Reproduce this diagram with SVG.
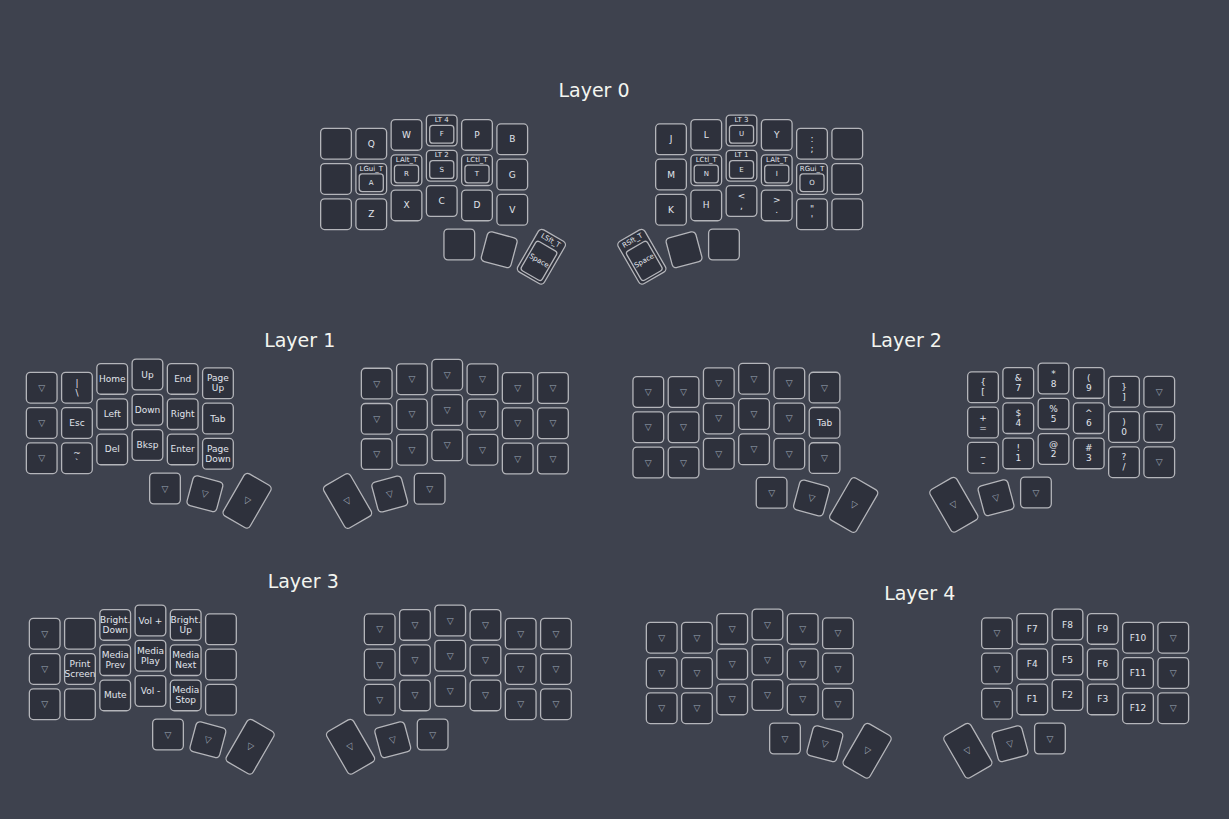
<svg xmlns="http://www.w3.org/2000/svg" xmlns:xlink="http://www.w3.org/1999/xlink" width="1229" height="819" viewBox="0 0 1229 819">
<style>
.kb{fill:#2e313c;stroke:#b4b5ba;stroke-width:1.3}
text{font-family:"DejaVu Sans","Liberation Sans",sans-serif;font-size:9px;fill:#e1e5ec;text-anchor:middle;dominant-baseline:central}
text.t{fill:#9ea7b6}
text.s{font-size:7px}
text.title{font-size:19px;fill:#f3f5f0;dominant-baseline:alphabetic}
</style>
<defs>
<rect id="k" class="kb" x="-15.35" y="-15.35" width="30.7" height="30.7" rx="4"/>
<rect id="hi" class="kb" x="-12.05" y="-5.05" width="24.1" height="17.7" rx="3"/>
<rect id="kt" class="kb" x="-15.35" y="-24.35" width="30.7" height="48.7" rx="4"/>
<rect id="hti" class="kb" x="-12.05" y="-12" width="24.1" height="33.7" rx="3"/>
</defs>
<rect width="1229" height="819" fill="#3e424e"/>
<g id="connectors"/>

<!-- Layer 0 -->
<g id="layer0">
<text class="title" x="594" y="97">Layer 0</text>
<g id="L0-left" transform="translate(320,127.7)">
<g id="L0l-r0c0" transform="translate(16,16)"><use href="#k"/></g>
<g id="L0l-r0c1" transform="translate(51.25,16)"><use href="#k"/><text>Q</text></g>
<g id="L0l-r0c2" transform="translate(86.5,7.2)"><use href="#k"/><text>W</text></g>
<g id="L0l-r0c3" transform="translate(121.75,2.8)"><use href="#k"/><text class="s" y="-10.4">LT 4</text><use href="#hi"/><text class="s" y="3.8">F</text></g>
<g id="L0l-r0c4" transform="translate(157,7.2)"><use href="#k"/><text>P</text></g>
<g id="L0l-r0c5" transform="translate(192.25,11.6)"><use href="#k"/><text>B</text></g>
<g id="L0l-r1c0" transform="translate(16,51.25)"><use href="#k"/></g>
<g id="L0l-r1c1" transform="translate(51.25,51.25)"><use href="#k"/><text class="s" y="-10.4">LGui_T</text><use href="#hi"/><text class="s" y="3.8">A</text></g>
<g id="L0l-r1c2" transform="translate(86.5,42.45)"><use href="#k"/><text class="s" y="-10.4">LAlt_T</text><use href="#hi"/><text class="s" y="3.8">R</text></g>
<g id="L0l-r1c3" transform="translate(121.75,38.05)"><use href="#k"/><text class="s" y="-10.4">LT 2</text><use href="#hi"/><text class="s" y="3.8">S</text></g>
<g id="L0l-r1c4" transform="translate(157,42.45)"><use href="#k"/><text class="s" y="-10.4">LCtl_T</text><use href="#hi"/><text class="s" y="3.8">T</text></g>
<g id="L0l-r1c5" transform="translate(192.25,46.85)"><use href="#k"/><text>G</text></g>
<g id="L0l-r2c0" transform="translate(16,86.5)"><use href="#k"/></g>
<g id="L0l-r2c1" transform="translate(51.25,86.5)"><use href="#k"/><text>Z</text></g>
<g id="L0l-r2c2" transform="translate(86.5,77.7)"><use href="#k"/><text>X</text></g>
<g id="L0l-r2c3" transform="translate(121.75,73.3)"><use href="#k"/><text>C</text></g>
<g id="L0l-r2c4" transform="translate(157,77.7)"><use href="#k"/><text>D</text></g>
<g id="L0l-r2c5" transform="translate(192.25,82.1)"><use href="#k"/><text>V</text></g>
<g id="L0l-t0" transform="translate(139.3,116.8)"><use href="#k"/></g>
<g id="L0l-t1" transform="translate(179.2,122) rotate(15)"><use href="#k"/></g>
<g id="L0l-t2" transform="translate(221.4,129) rotate(30)"><use href="#kt"/><text class="s" y="-18.5">LSft_T</text><use href="#hti"/><text class="s" y="4.8">Space</text></g>
</g>
<g id="L0-right" transform="translate(655,127.7)">
<g id="L0r-r0c0" transform="translate(16,11.6)"><use href="#k"/><text>J</text></g>
<g id="L0r-r0c1" transform="translate(51.25,7.2)"><use href="#k"/><text>L</text></g>
<g id="L0r-r0c2" transform="translate(86.5,2.8)"><use href="#k"/><text class="s" y="-10.4">LT 3</text><use href="#hi"/><text class="s" y="3.8">U</text></g>
<g id="L0r-r0c3" transform="translate(121.75,7.2)"><use href="#k"/><text>Y</text></g>
<g id="L0r-r0c4" transform="translate(157,16)"><use href="#k"/><text y="-5">:</text><text y="5">;</text></g>
<g id="L0r-r0c5" transform="translate(192.25,16)"><use href="#k"/></g>
<g id="L0r-r1c0" transform="translate(16,46.85)"><use href="#k"/><text>M</text></g>
<g id="L0r-r1c1" transform="translate(51.25,42.45)"><use href="#k"/><text class="s" y="-10.4">LCtl_T</text><use href="#hi"/><text class="s" y="3.8">N</text></g>
<g id="L0r-r1c2" transform="translate(86.5,38.05)"><use href="#k"/><text class="s" y="-10.4">LT 1</text><use href="#hi"/><text class="s" y="3.8">E</text></g>
<g id="L0r-r1c3" transform="translate(121.75,42.45)"><use href="#k"/><text class="s" y="-10.4">LAlt_T</text><use href="#hi"/><text class="s" y="3.8">I</text></g>
<g id="L0r-r1c4" transform="translate(157,51.25)"><use href="#k"/><text class="s" y="-10.4">RGui_T</text><use href="#hi"/><text class="s" y="3.8">O</text></g>
<g id="L0r-r1c5" transform="translate(192.25,51.25)"><use href="#k"/></g>
<g id="L0r-r2c0" transform="translate(16,82.1)"><use href="#k"/><text>K</text></g>
<g id="L0r-r2c1" transform="translate(51.25,77.7)"><use href="#k"/><text>H</text></g>
<g id="L0r-r2c2" transform="translate(86.5,73.3)"><use href="#k"/><text y="-5">&lt;</text><text y="5">,</text></g>
<g id="L0r-r2c3" transform="translate(121.75,77.7)"><use href="#k"/><text y="-5">&gt;</text><text y="5">.</text></g>
<g id="L0r-r2c4" transform="translate(157,86.5)"><use href="#k"/><text y="-5">"</text><text y="5">'</text></g>
<g id="L0r-r2c5" transform="translate(192.25,86.5)"><use href="#k"/></g>
<g id="L0r-t0" transform="translate(-13.15,129) rotate(-30)"><use href="#kt"/><text class="s" y="-18.5">RSft_T</text><use href="#hti"/><text class="s" y="4.8">Space</text></g>
<g id="L0r-t1" transform="translate(29.05,122) rotate(-15)"><use href="#k"/></g>
<g id="L0r-t2" transform="translate(68.95,116.8)"><use href="#k"/></g>
</g>
</g>

<!-- Layer 1 -->
<g id="layer1">
<text class="title" x="299.7" y="347">Layer 1</text>
<g id="L1-left" transform="translate(25.7,371.7)">
<g id="L1l-r0c0" transform="translate(16,16)"><use href="#k"/><text class="t">▽</text></g>
<g id="L1l-r0c1" transform="translate(51.25,16)"><use href="#k"/><text y="-5">|</text><text y="5">\</text></g>
<g id="L1l-r0c2" transform="translate(86.5,7.2)"><use href="#k"/><text>Home</text></g>
<g id="L1l-r0c3" transform="translate(121.75,2.8)"><use href="#k"/><text>Up</text></g>
<g id="L1l-r0c4" transform="translate(157,7.2)"><use href="#k"/><text>End</text></g>
<g id="L1l-r0c5" transform="translate(192.25,11.6)"><use href="#k"/><text y="-5">Page</text><text y="5">Up</text></g>
<g id="L1l-r1c0" transform="translate(16,51.25)"><use href="#k"/><text class="t">▽</text></g>
<g id="L1l-r1c1" transform="translate(51.25,51.25)"><use href="#k"/><text>Esc</text></g>
<g id="L1l-r1c2" transform="translate(86.5,42.45)"><use href="#k"/><text>Left</text></g>
<g id="L1l-r1c3" transform="translate(121.75,38.05)"><use href="#k"/><text>Down</text></g>
<g id="L1l-r1c4" transform="translate(157,42.45)"><use href="#k"/><text>Right</text></g>
<g id="L1l-r1c5" transform="translate(192.25,46.85)"><use href="#k"/><text>Tab</text></g>
<g id="L1l-r2c0" transform="translate(16,86.5)"><use href="#k"/><text class="t">▽</text></g>
<g id="L1l-r2c1" transform="translate(51.25,86.5)"><use href="#k"/><text y="-5">~</text><text y="5">`</text></g>
<g id="L1l-r2c2" transform="translate(86.5,77.7)"><use href="#k"/><text>Del</text></g>
<g id="L1l-r2c3" transform="translate(121.75,73.3)"><use href="#k"/><text>Bksp</text></g>
<g id="L1l-r2c4" transform="translate(157,77.7)"><use href="#k"/><text>Enter</text></g>
<g id="L1l-r2c5" transform="translate(192.25,82.1)"><use href="#k"/><text y="-5">Page</text><text y="5">Down</text></g>
<g id="L1l-t0" transform="translate(139.3,116.8)"><use href="#k"/><text class="t">▽</text></g>
<g id="L1l-t1" transform="translate(179.2,122) rotate(15)"><use href="#k"/><text class="t">▽</text></g>
<g id="L1l-t2" transform="translate(221.4,129) rotate(30)"><use href="#kt"/><text class="t">▽</text></g>
</g>
<g id="L1-right" transform="translate(360.7,372)">
<g id="L1r-r0c0" transform="translate(16,11.6)"><use href="#k"/><text class="t">▽</text></g>
<g id="L1r-r0c1" transform="translate(51.25,7.2)"><use href="#k"/><text class="t">▽</text></g>
<g id="L1r-r0c2" transform="translate(86.5,2.8)"><use href="#k"/><text class="t">▽</text></g>
<g id="L1r-r0c3" transform="translate(121.75,7.2)"><use href="#k"/><text class="t">▽</text></g>
<g id="L1r-r0c4" transform="translate(157,16)"><use href="#k"/><text class="t">▽</text></g>
<g id="L1r-r0c5" transform="translate(192.25,16)"><use href="#k"/><text class="t">▽</text></g>
<g id="L1r-r1c0" transform="translate(16,46.85)"><use href="#k"/><text class="t">▽</text></g>
<g id="L1r-r1c1" transform="translate(51.25,42.45)"><use href="#k"/><text class="t">▽</text></g>
<g id="L1r-r1c2" transform="translate(86.5,38.05)"><use href="#k"/><text class="t">▽</text></g>
<g id="L1r-r1c3" transform="translate(121.75,42.45)"><use href="#k"/><text class="t">▽</text></g>
<g id="L1r-r1c4" transform="translate(157,51.25)"><use href="#k"/><text class="t">▽</text></g>
<g id="L1r-r1c5" transform="translate(192.25,51.25)"><use href="#k"/><text class="t">▽</text></g>
<g id="L1r-r2c0" transform="translate(16,82.1)"><use href="#k"/><text class="t">▽</text></g>
<g id="L1r-r2c1" transform="translate(51.25,77.7)"><use href="#k"/><text class="t">▽</text></g>
<g id="L1r-r2c2" transform="translate(86.5,73.3)"><use href="#k"/><text class="t">▽</text></g>
<g id="L1r-r2c3" transform="translate(121.75,77.7)"><use href="#k"/><text class="t">▽</text></g>
<g id="L1r-r2c4" transform="translate(157,86.5)"><use href="#k"/><text class="t">▽</text></g>
<g id="L1r-r2c5" transform="translate(192.25,86.5)"><use href="#k"/><text class="t">▽</text></g>
<g id="L1r-t0" transform="translate(-13.15,129) rotate(-30)"><use href="#kt"/><text class="t">▽</text></g>
<g id="L1r-t1" transform="translate(29.05,122) rotate(-15)"><use href="#k"/><text class="t">▽</text></g>
<g id="L1r-t2" transform="translate(68.95,116.8)"><use href="#k"/><text class="t">▽</text></g>
</g>
</g>

<!-- Layer 2 -->
<g id="layer2">
<text class="title" x="906.3" y="347">Layer 2</text>
<g id="L2-left" transform="translate(632.3,376)">
<g id="L2l-r0c0" transform="translate(16,16)"><use href="#k"/><text class="t">▽</text></g>
<g id="L2l-r0c1" transform="translate(51.25,16)"><use href="#k"/><text class="t">▽</text></g>
<g id="L2l-r0c2" transform="translate(86.5,7.2)"><use href="#k"/><text class="t">▽</text></g>
<g id="L2l-r0c3" transform="translate(121.75,2.8)"><use href="#k"/><text class="t">▽</text></g>
<g id="L2l-r0c4" transform="translate(157,7.2)"><use href="#k"/><text class="t">▽</text></g>
<g id="L2l-r0c5" transform="translate(192.25,11.6)"><use href="#k"/><text class="t">▽</text></g>
<g id="L2l-r1c0" transform="translate(16,51.25)"><use href="#k"/><text class="t">▽</text></g>
<g id="L2l-r1c1" transform="translate(51.25,51.25)"><use href="#k"/><text class="t">▽</text></g>
<g id="L2l-r1c2" transform="translate(86.5,42.45)"><use href="#k"/><text class="t">▽</text></g>
<g id="L2l-r1c3" transform="translate(121.75,38.05)"><use href="#k"/><text class="t">▽</text></g>
<g id="L2l-r1c4" transform="translate(157,42.45)"><use href="#k"/><text class="t">▽</text></g>
<g id="L2l-r1c5" transform="translate(192.25,46.85)"><use href="#k"/><text>Tab</text></g>
<g id="L2l-r2c0" transform="translate(16,86.5)"><use href="#k"/><text class="t">▽</text></g>
<g id="L2l-r2c1" transform="translate(51.25,86.5)"><use href="#k"/><text class="t">▽</text></g>
<g id="L2l-r2c2" transform="translate(86.5,77.7)"><use href="#k"/><text class="t">▽</text></g>
<g id="L2l-r2c3" transform="translate(121.75,73.3)"><use href="#k"/><text class="t">▽</text></g>
<g id="L2l-r2c4" transform="translate(157,77.7)"><use href="#k"/><text class="t">▽</text></g>
<g id="L2l-r2c5" transform="translate(192.25,82.1)"><use href="#k"/><text class="t">▽</text></g>
<g id="L2l-t0" transform="translate(139.3,116.8)"><use href="#k"/><text class="t">▽</text></g>
<g id="L2l-t1" transform="translate(179.2,122) rotate(15)"><use href="#k"/><text class="t">▽</text></g>
<g id="L2l-t2" transform="translate(221.4,129) rotate(30)"><use href="#kt"/><text class="t">▽</text></g>
</g>
<g id="L2-right" transform="translate(967,375.7)">
<g id="L2r-r0c0" transform="translate(16,11.6)"><use href="#k"/><text y="-5">{</text><text y="5">[</text></g>
<g id="L2r-r0c1" transform="translate(51.25,7.2)"><use href="#k"/><text y="-5">&amp;</text><text y="5">7</text></g>
<g id="L2r-r0c2" transform="translate(86.5,2.8)"><use href="#k"/><text y="-5">*</text><text y="5">8</text></g>
<g id="L2r-r0c3" transform="translate(121.75,7.2)"><use href="#k"/><text y="-5">(</text><text y="5">9</text></g>
<g id="L2r-r0c4" transform="translate(157,16)"><use href="#k"/><text y="-5">}</text><text y="5">]</text></g>
<g id="L2r-r0c5" transform="translate(192.25,16)"><use href="#k"/><text class="t">▽</text></g>
<g id="L2r-r1c0" transform="translate(16,46.85)"><use href="#k"/><text y="-5">+</text><text y="5">=</text></g>
<g id="L2r-r1c1" transform="translate(51.25,42.45)"><use href="#k"/><text y="-5">$</text><text y="5">4</text></g>
<g id="L2r-r1c2" transform="translate(86.5,38.05)"><use href="#k"/><text y="-5">%</text><text y="5">5</text></g>
<g id="L2r-r1c3" transform="translate(121.75,42.45)"><use href="#k"/><text y="-5">^</text><text y="5">6</text></g>
<g id="L2r-r1c4" transform="translate(157,51.25)"><use href="#k"/><text y="-5">)</text><text y="5">0</text></g>
<g id="L2r-r1c5" transform="translate(192.25,51.25)"><use href="#k"/><text class="t">▽</text></g>
<g id="L2r-r2c0" transform="translate(16,82.1)"><use href="#k"/><text y="-5">_</text><text y="5">-</text></g>
<g id="L2r-r2c1" transform="translate(51.25,77.7)"><use href="#k"/><text y="-5">!</text><text y="5">1</text></g>
<g id="L2r-r2c2" transform="translate(86.5,73.3)"><use href="#k"/><text y="-5">@</text><text y="5">2</text></g>
<g id="L2r-r2c3" transform="translate(121.75,77.7)"><use href="#k"/><text y="-5">#</text><text y="5">3</text></g>
<g id="L2r-r2c4" transform="translate(157,86.5)"><use href="#k"/><text y="-5">?</text><text y="5">/</text></g>
<g id="L2r-r2c5" transform="translate(192.25,86.5)"><use href="#k"/><text class="t">▽</text></g>
<g id="L2r-t0" transform="translate(-13.15,129) rotate(-30)"><use href="#kt"/><text class="t">▽</text></g>
<g id="L2r-t1" transform="translate(29.05,122) rotate(-15)"><use href="#k"/><text class="t">▽</text></g>
<g id="L2r-t2" transform="translate(68.95,116.8)"><use href="#k"/><text class="t">▽</text></g>
</g>
</g>

<!-- Layer 3 -->
<g id="layer3">
<text class="title" x="303.2" y="587.7">Layer 3</text>
<g id="L3-left" transform="translate(28.7,617.7)">
<g id="L3l-r0c0" transform="translate(16,16)"><use href="#k"/><text class="t">▽</text></g>
<g id="L3l-r0c1" transform="translate(51.25,16)"><use href="#k"/></g>
<g id="L3l-r0c2" transform="translate(86.5,7.2)"><use href="#k"/><text y="-5">Bright.</text><text y="5">Down</text></g>
<g id="L3l-r0c3" transform="translate(121.75,2.8)"><use href="#k"/><text>Vol +</text></g>
<g id="L3l-r0c4" transform="translate(157,7.2)"><use href="#k"/><text y="-5">Bright.</text><text y="5">Up</text></g>
<g id="L3l-r0c5" transform="translate(192.25,11.6)"><use href="#k"/></g>
<g id="L3l-r1c0" transform="translate(16,51.25)"><use href="#k"/><text class="t">▽</text></g>
<g id="L3l-r1c1" transform="translate(51.25,51.25)"><use href="#k"/><text y="-5">Print</text><text y="5">Screen</text></g>
<g id="L3l-r1c2" transform="translate(86.5,42.45)"><use href="#k"/><text y="-5">Media</text><text y="5">Prev</text></g>
<g id="L3l-r1c3" transform="translate(121.75,38.05)"><use href="#k"/><text y="-5">Media</text><text y="5">Play</text></g>
<g id="L3l-r1c4" transform="translate(157,42.45)"><use href="#k"/><text y="-5">Media</text><text y="5">Next</text></g>
<g id="L3l-r1c5" transform="translate(192.25,46.85)"><use href="#k"/></g>
<g id="L3l-r2c0" transform="translate(16,86.5)"><use href="#k"/><text class="t">▽</text></g>
<g id="L3l-r2c1" transform="translate(51.25,86.5)"><use href="#k"/></g>
<g id="L3l-r2c2" transform="translate(86.5,77.7)"><use href="#k"/><text>Mute</text></g>
<g id="L3l-r2c3" transform="translate(121.75,73.3)"><use href="#k"/><text>Vol -</text></g>
<g id="L3l-r2c4" transform="translate(157,77.7)"><use href="#k"/><text y="-5">Media</text><text y="5">Stop</text></g>
<g id="L3l-r2c5" transform="translate(192.25,82.1)"><use href="#k"/></g>
<g id="L3l-t0" transform="translate(139.3,116.8)"><use href="#k"/><text class="t">▽</text></g>
<g id="L3l-t1" transform="translate(179.2,122) rotate(15)"><use href="#k"/><text class="t">▽</text></g>
<g id="L3l-t2" transform="translate(221.4,129) rotate(30)"><use href="#kt"/><text class="t">▽</text></g>
</g>
<g id="L3-right" transform="translate(363.7,617.7)">
<g id="L3r-r0c0" transform="translate(16,11.6)"><use href="#k"/><text class="t">▽</text></g>
<g id="L3r-r0c1" transform="translate(51.25,7.2)"><use href="#k"/><text class="t">▽</text></g>
<g id="L3r-r0c2" transform="translate(86.5,2.8)"><use href="#k"/><text class="t">▽</text></g>
<g id="L3r-r0c3" transform="translate(121.75,7.2)"><use href="#k"/><text class="t">▽</text></g>
<g id="L3r-r0c4" transform="translate(157,16)"><use href="#k"/><text class="t">▽</text></g>
<g id="L3r-r0c5" transform="translate(192.25,16)"><use href="#k"/><text class="t">▽</text></g>
<g id="L3r-r1c0" transform="translate(16,46.85)"><use href="#k"/><text class="t">▽</text></g>
<g id="L3r-r1c1" transform="translate(51.25,42.45)"><use href="#k"/><text class="t">▽</text></g>
<g id="L3r-r1c2" transform="translate(86.5,38.05)"><use href="#k"/><text class="t">▽</text></g>
<g id="L3r-r1c3" transform="translate(121.75,42.45)"><use href="#k"/><text class="t">▽</text></g>
<g id="L3r-r1c4" transform="translate(157,51.25)"><use href="#k"/><text class="t">▽</text></g>
<g id="L3r-r1c5" transform="translate(192.25,51.25)"><use href="#k"/><text class="t">▽</text></g>
<g id="L3r-r2c0" transform="translate(16,82.1)"><use href="#k"/><text class="t">▽</text></g>
<g id="L3r-r2c1" transform="translate(51.25,77.7)"><use href="#k"/><text class="t">▽</text></g>
<g id="L3r-r2c2" transform="translate(86.5,73.3)"><use href="#k"/><text class="t">▽</text></g>
<g id="L3r-r2c3" transform="translate(121.75,77.7)"><use href="#k"/><text class="t">▽</text></g>
<g id="L3r-r2c4" transform="translate(157,86.5)"><use href="#k"/><text class="t">▽</text></g>
<g id="L3r-r2c5" transform="translate(192.25,86.5)"><use href="#k"/><text class="t">▽</text></g>
<g id="L3r-t0" transform="translate(-13.15,129) rotate(-30)"><use href="#kt"/><text class="t">▽</text></g>
<g id="L3r-t1" transform="translate(29.05,122) rotate(-15)"><use href="#k"/><text class="t">▽</text></g>
<g id="L3r-t2" transform="translate(68.95,116.8)"><use href="#k"/><text class="t">▽</text></g>
</g>
</g>

<!-- Layer 4 -->
<g id="layer4">
<text class="title" x="919.7" y="600">Layer 4</text>
<g id="L4-left" transform="translate(645.7,621.7)">
<g id="L4l-r0c0" transform="translate(16,16)"><use href="#k"/><text class="t">▽</text></g>
<g id="L4l-r0c1" transform="translate(51.25,16)"><use href="#k"/><text class="t">▽</text></g>
<g id="L4l-r0c2" transform="translate(86.5,7.2)"><use href="#k"/><text class="t">▽</text></g>
<g id="L4l-r0c3" transform="translate(121.75,2.8)"><use href="#k"/><text class="t">▽</text></g>
<g id="L4l-r0c4" transform="translate(157,7.2)"><use href="#k"/><text class="t">▽</text></g>
<g id="L4l-r0c5" transform="translate(192.25,11.6)"><use href="#k"/><text class="t">▽</text></g>
<g id="L4l-r1c0" transform="translate(16,51.25)"><use href="#k"/><text class="t">▽</text></g>
<g id="L4l-r1c1" transform="translate(51.25,51.25)"><use href="#k"/><text class="t">▽</text></g>
<g id="L4l-r1c2" transform="translate(86.5,42.45)"><use href="#k"/><text class="t">▽</text></g>
<g id="L4l-r1c3" transform="translate(121.75,38.05)"><use href="#k"/><text class="t">▽</text></g>
<g id="L4l-r1c4" transform="translate(157,42.45)"><use href="#k"/><text class="t">▽</text></g>
<g id="L4l-r1c5" transform="translate(192.25,46.85)"><use href="#k"/><text class="t">▽</text></g>
<g id="L4l-r2c0" transform="translate(16,86.5)"><use href="#k"/><text class="t">▽</text></g>
<g id="L4l-r2c1" transform="translate(51.25,86.5)"><use href="#k"/><text class="t">▽</text></g>
<g id="L4l-r2c2" transform="translate(86.5,77.7)"><use href="#k"/><text class="t">▽</text></g>
<g id="L4l-r2c3" transform="translate(121.75,73.3)"><use href="#k"/><text class="t">▽</text></g>
<g id="L4l-r2c4" transform="translate(157,77.7)"><use href="#k"/><text class="t">▽</text></g>
<g id="L4l-r2c5" transform="translate(192.25,82.1)"><use href="#k"/><text class="t">▽</text></g>
<g id="L4l-t0" transform="translate(139.3,116.8)"><use href="#k"/><text class="t">▽</text></g>
<g id="L4l-t1" transform="translate(179.2,122) rotate(15)"><use href="#k"/><text class="t">▽</text></g>
<g id="L4l-t2" transform="translate(221.4,129) rotate(30)"><use href="#kt"/><text class="t">▽</text></g>
</g>
<g id="L4-right" transform="translate(981,621.7)">
<g id="L4r-r0c0" transform="translate(16,11.6)"><use href="#k"/><text class="t">▽</text></g>
<g id="L4r-r0c1" transform="translate(51.25,7.2)"><use href="#k"/><text>F7</text></g>
<g id="L4r-r0c2" transform="translate(86.5,2.8)"><use href="#k"/><text>F8</text></g>
<g id="L4r-r0c3" transform="translate(121.75,7.2)"><use href="#k"/><text>F9</text></g>
<g id="L4r-r0c4" transform="translate(157,16)"><use href="#k"/><text>F10</text></g>
<g id="L4r-r0c5" transform="translate(192.25,16)"><use href="#k"/><text class="t">▽</text></g>
<g id="L4r-r1c0" transform="translate(16,46.85)"><use href="#k"/><text class="t">▽</text></g>
<g id="L4r-r1c1" transform="translate(51.25,42.45)"><use href="#k"/><text>F4</text></g>
<g id="L4r-r1c2" transform="translate(86.5,38.05)"><use href="#k"/><text>F5</text></g>
<g id="L4r-r1c3" transform="translate(121.75,42.45)"><use href="#k"/><text>F6</text></g>
<g id="L4r-r1c4" transform="translate(157,51.25)"><use href="#k"/><text>F11</text></g>
<g id="L4r-r1c5" transform="translate(192.25,51.25)"><use href="#k"/><text class="t">▽</text></g>
<g id="L4r-r2c0" transform="translate(16,82.1)"><use href="#k"/><text class="t">▽</text></g>
<g id="L4r-r2c1" transform="translate(51.25,77.7)"><use href="#k"/><text>F1</text></g>
<g id="L4r-r2c2" transform="translate(86.5,73.3)"><use href="#k"/><text>F2</text></g>
<g id="L4r-r2c3" transform="translate(121.75,77.7)"><use href="#k"/><text>F3</text></g>
<g id="L4r-r2c4" transform="translate(157,86.5)"><use href="#k"/><text>F12</text></g>
<g id="L4r-r2c5" transform="translate(192.25,86.5)"><use href="#k"/><text class="t">▽</text></g>
<g id="L4r-t0" transform="translate(-13.15,129) rotate(-30)"><use href="#kt"/><text class="t">▽</text></g>
<g id="L4r-t1" transform="translate(29.05,122) rotate(-15)"><use href="#k"/><text class="t">▽</text></g>
<g id="L4r-t2" transform="translate(68.95,116.8)"><use href="#k"/><text class="t">▽</text></g>
</g>
</g>
</svg>
